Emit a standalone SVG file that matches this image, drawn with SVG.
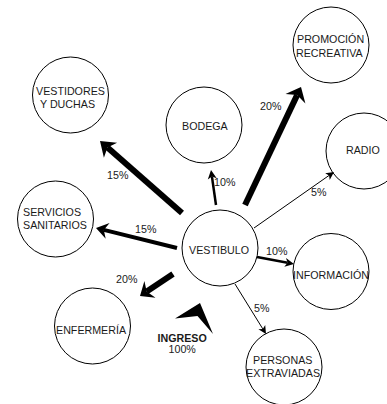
<svg xmlns="http://www.w3.org/2000/svg" width="387" height="404" viewBox="0 0 387 404">
<style>
.n{fill:#fff;stroke:#000;stroke-width:1}
.t{font-family:"Liberation Sans",Arial,sans-serif;font-size:10.7px;fill:#1a1a1a}
.b{font-weight:bold}
.l{stroke:#000;fill:none}
.h{fill:#000;stroke:none}
</style>
<rect width="387" height="404" fill="#fff"/>
<g id="nodes">
<g id="vestidores"><circle class="n" cx="70.5" cy="95" r="38"/><text class="t" x="36" y="95">VESTIDORES</text><text class="t" x="40" y="108">Y DUCHAS</text></g>
<g id="bodega"><circle class="n" cx="204" cy="125" r="38"/><text class="t" x="182" y="130">BODEGA</text></g>
<g id="promocion"><circle class="n" cx="331" cy="45" r="38"/><text class="t" x="297" y="43">PROMOCIÓN</text><text class="t" x="296" y="56.5">RECREATIVA</text></g>
<g id="radio"><circle class="n" cx="364" cy="151" r="38"/><text class="t" x="346" y="154">RADIO</text></g>
<g id="servicios"><circle class="n" cx="55.5" cy="219" r="38"/><text class="t" x="23" y="216">SERVICIOS</text><text class="t" x="23" y="229">SANITARIOS</text></g>
<g id="vestibulo"><circle class="n" cx="220" cy="248" r="38"/><text class="t" x="189" y="254">VESTIBULO</text></g>
<g id="enfermeria"><circle class="n" cx="92.5" cy="326" r="38"/><text class="t" x="56" y="334">ENFERMERÍA</text></g>
<g id="informacion"><circle class="n" cx="331" cy="271.5" r="38"/><text class="t" x="293" y="279">INFORMACIÓN</text></g>
<g id="personas"><circle class="n" cx="284" cy="367" r="38"/><text class="t" x="253" y="364">PERSONAS</text><text class="t" x="246" y="377">EXTRAVIADAS</text></g>
</g>
<g id="connectors">
<line class="l" x1="182" y1="213" x2="107.5" y2="147.6" stroke-width="6"/>
<polygon class="h" points="100,141 117.1,142.7 107.5,147.6 103.9,157.7"/>
<line class="l" x1="245" y1="205" x2="297.1" y2="95.1" stroke-width="6"/>
<polygon class="h" points="301,87 305.4,103.5 297.1,95.1 285.5,94"/>
<line class="l" x1="173" y1="274" x2="146.7" y2="291.6" stroke-width="6"/>
<polygon class="h" points="140,296 144.4,281 146.7,291.6 155.5,297.7"/>
<line class="l" x1="177" y1="248" x2="103.8" y2="229.9" stroke-width="4"/>
<polygon class="h" points="96,228 109.6,223.1 103.8,229.9 105.7,238.7"/>
<line class="l" x1="216" y1="205" x2="211.9" y2="176.4" stroke-width="2.5"/>
<polygon class="h" points="211,170 216.7,178.3 211.9,176.4 207.8,179.6"/>
<line class="l" x1="257" y1="257" x2="287.6" y2="262.8" stroke-width="2.5"/>
<polygon class="h" points="294,264 284.3,266.8 287.6,262.8 286,257.9"/>
<line class="l" x1="254" y1="228" x2="329.1" y2="175.4" stroke-width="1"/>
<polygon class="h" points="334,172 329.7,179.9 329.1,175.4 325.2,173.3"/>
<line class="l" x1="235" y1="284" x2="262.8" y2="328.9" stroke-width="1"/>
<polygon class="h" points="266,334 258.4,329.3 262.8,328.9 265.2,325.1"/>
<polygon class="h" id="ingreso-arrow" points="200,303 175,318.5 197.5,316 213,334"/>
</g>
<g id="labels">
<text class="t" x="107" y="179">15%</text>
<text class="t" x="260" y="110">20%</text>
<text class="t" x="214" y="186">10%</text>
<text class="t" x="311" y="196">5%</text>
<text class="t" x="135" y="233">15%</text>
<text class="t" x="116" y="283">20%</text>
<text class="t" x="266" y="255">10%</text>
<text class="t" x="254" y="312">5%</text>
<text class="t b" x="157.5" y="342">INGRESO</text>
<text class="t" x="168.5" y="352.5">100%</text>
</g>
</svg>
